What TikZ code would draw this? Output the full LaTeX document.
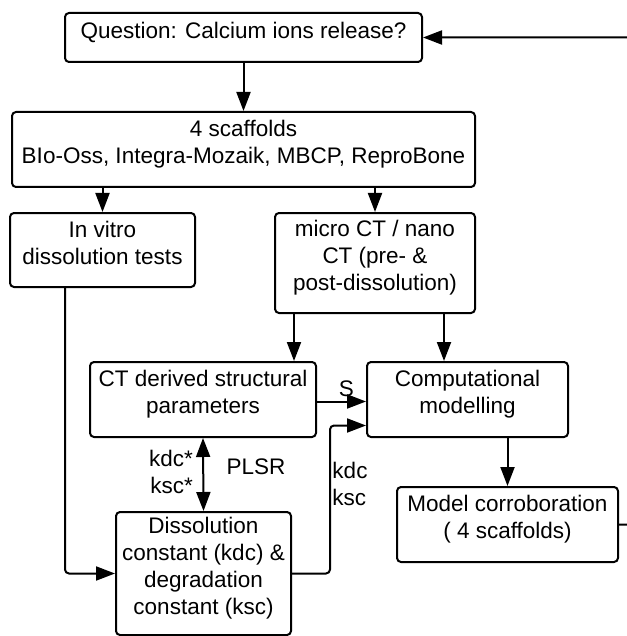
\documentclass[tikz,border=0pt]{standalone}
\usepackage{fontspec}
\setmainfont{Liberation Sans}
\usetikzlibrary{arrows.meta}
\tikzset{
  stage/.style={draw, line width=2pt, rounded corners=4pt, align=center, inner sep=2pt, text depth=15pt},
  flow/.style={line width=2pt, -{Triangle[length=19pt,width=14pt]}},
  lbl/.style={align=center, inner sep=0pt},
}
\begin{document}
\begin{tikzpicture}[x=1pt, y=-1pt, font=\fontsize{22.5}{27}\selectfont]
\useasboundingbox (0,0) rectangle (626,636);
\node[stage, minimum width=357pt, minimum height=49pt] (question) at (243.5,37.5) {Question: Calcium ions release?};
\node[stage, minimum width=463pt, minimum height=75pt] (scaffolds) at (243.5,149.5) {4 scaffolds\\BIo-Oss, Integra-Mozaik, MBCP, ReproBone};
\node[stage, minimum width=185pt, minimum height=74pt] (invitro) at (102.5,250) {In vitro\\dissolution tests};
\node[stage, minimum width=200pt, minimum height=100pt] (microct) at (375,263) {micro CT / nano\\CT (pre- \&\\post-dissolution)};
\node[stage, minimum width=226pt, minimum height=75pt] (ctparams) at (203,399.5) {CT derived structural\\parameters};
\node[stage, minimum width=201pt, minimum height=75pt] (compmodel) at (467.5,399.5) {Computational\\modelling};
\node[stage, minimum width=175pt, minimum height=123pt] (dissol) at (203.5,573.5) {Dissolution\\constant (kdc) \&\\degradation\\constant (ksc)};
\node[stage, minimum width=221pt, minimum height=75pt] (modelcorr) at (507.5,524.5) {Model corroboration\\( 4 scaffolds)};
% labels
\node[lbl, anchor=east, align=right] (kstar) at (193,472) {kdc*\\ksc*};
\node[lbl] (plsr) at (256,467) {PLSR};
\node[lbl, align=left] (kplain) at (350,484) {kdc\\ksc};
% connectors
\draw[flow] (question.south) -- (scaffolds.north);
\draw[flow] (invitro.north |- scaffolds.south) -- (invitro.north);
\draw[flow] (microct.north |- scaffolds.south) -- (microct.north);
\draw[flow] ([xshift=20pt]microct.south west) -- ([xshift=20pt]microct.south west |- ctparams.north);
\draw[flow] ([xshift=-32pt]microct.south east) -- ([xshift=-32pt]microct.south east |- compmodel.north);
\draw[flow] ([yshift=-2pt]ctparams.east) -- node[pos=0.6, above, inner sep=4pt] (slabel) {S} ([yshift=-2pt]compmodel.west);
\draw[flow, rounded corners=4pt] (dissol.east) -- ++(38,0) |- ([yshift=-26pt]compmodel.west);
\draw[flow, rounded corners=4pt] ([xshift=56pt]invitro.south west) |- (dissol.west);
\draw[flow, {Triangle[length=19pt,width=14pt]}-{Triangle[length=19pt,width=14pt]}] (ctparams.south) -- (dissol.north);
\draw[flow] (modelcorr.north |- compmodel.south) -- (modelcorr.north);
\draw[flow, rounded corners=4pt] (modelcorr.east) -- ++(22,0) |- (question.east);
\end{tikzpicture}
\end{document}
